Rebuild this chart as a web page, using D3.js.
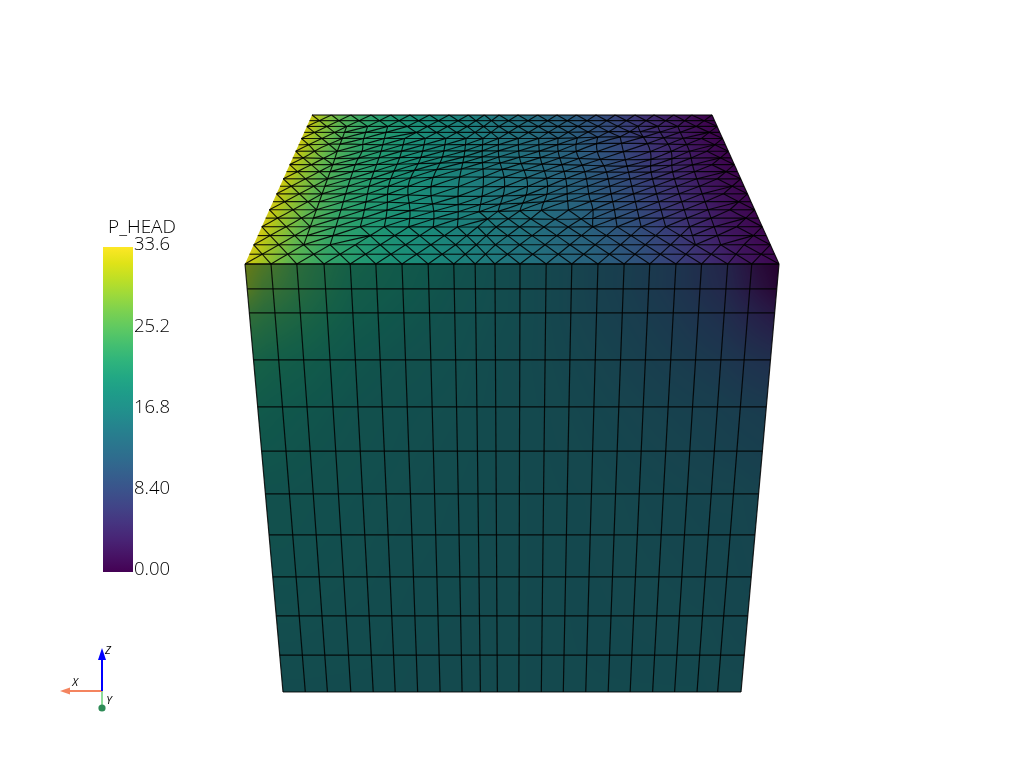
<!DOCTYPE html>
<html><head><meta charset="utf-8">
<script src="https://cdn.jsdelivr.net/npm/d3@7"></script>
<style>html,body{margin:0;background:#fff}#c{position:relative;width:1024px;height:768px}canvas,svg{position:absolute;left:0;top:0;display:block}</style>
</head><body><div id="c"></div>
<script>
// --- colour bar
const barTitle = "P_HEAD";
const barTicks = [0, 8.4, 16.8, 25.2, 33.6];
const barLabels = ["0.00", "8.40", "16.8", "25.2", "33.6"];
// --- front face mesh: column and row positions as fractions of the face
const meshU = [0,.0487,.097,.148,.197,.245,.294,.343,.391,.431,.468,.515,.564,.612,.661,.71,.758,.807,.855,.904,.949,1];
const meshT = [0,.058,.114,.224,.334,.437,.537,.633,.731,.822,.914,1];
// --- P_HEAD field, normalised 0..1, front face
const frontU = [0,.03,.1,.2,.3,.4,.5,.6,.7,.8,.9,.96,1];
const frontT = [0,.06,.12,.22,.35,.55,1];
const frontV0 = [.90,.84,.72,.62,.57,.52,.47,.42,.37,.31,.2,.06,0];
const frontV1 = [.85,.78,.70,.60,.56,.51,.47,.42,.37,.31,.22,.1,.03];
const frontV2 = [.74,.71,.66,.58,.54,.50,.47,.42,.38,.33,.26,.18,.13];
const frontV3 = [.64,.62,.59,.54,.51,.49,.46,.43,.40,.36,.32,.28,.26];
const frontV4 = [.57,.56,.54,.51,.49,.48,.46,.44,.42,.40,.38,.36,.35];
const frontV5 = [.51,.51,.50,.49,.48,.47,.46,.45,.44,.43,.42,.42,.41];
const frontV6 = [.47,.47,.47,.47,.46,.46,.46,.45,.45,.45,.45,.44,.44];
// --- P_HEAD field, normalised 0..1, top face (front edge, back edge)
const topU = [0,.03,.08,.15,.25,.35,.45,.55,.65,.75,.85,.93,1];
const topV0 = [.98,.90,.78,.68,.60,.54,.48,.42,.36,.28,.17,.07,.02];
const topV1 = [.96,.87,.76,.66,.58,.52,.46,.40,.33,.24,.13,.05,0];
// --- top face mesh: rows, diamond bands per column, irregular patches (u, v, strength, radius)
const topRows = 20;
const bandFront = [20,20,2,2,3,3,4,4,4,5,5,5,5,5,3,3,3,3,2,1,20,20];
const bandBack  = [0,0,18,18,18,17,17,17,16,16,16,16,16,16,17,17,17,18,18,18,0,0];
const patchU = [.41,.76,.10,.60];
const patchV = [.46,.71,.70,.30];
const patchA = [.34,.34,.3,.25];
const patchR = [.13,.10,.05,.06];
// --- orientation marker labels
const axisNames = ["X","Z","Y"];

// --- layout
const frontQuad = {x0l:245,x0r:779,y0:264,x1l:283,x1r:741,y1:692};
const backTop = {xl:312,xr:712,y:115};
const TEXT = '"Open Sans","Liberation Sans",Arial,sans-serif';

const root = d3.select("#c");
const canvas = root.append("canvas").attr("width",1024).attr("height",768);
const svg = root.append("svg").attr("width",1024).attr("height",768);

// scales
const viridis = d3.scaleSequential(d3.interpolateViridis).domain([0,1]);
const yFront = d3.scaleLinear([0,1],[frontQuad.y0,frontQuad.y1]);
const xlFront = d3.scaleLinear([0,1],[frontQuad.x0l,frontQuad.x1l]);
const xrFront = d3.scaleLinear([0,1],[frontQuad.x0r,frontQuad.x1r]);
const frontPt = (u,t)=>[xlFront(t)+u*(xrFront(t)-xlFront(t)), yFront(t)];

// top face projection: reciprocal width is linear in depth
const wF = frontQuad.x0r-frontQuad.x0l, wB = backTop.xr-backTop.xl;
const invW = d3.scaleLinear([0,1],[1/wF,1/wB]);
const yOfW = d3.scaleLinear([wB,wF],[backTop.y,frontQuad.y0]);
const xlOfW = d3.scaleLinear([wB,wF],[backTop.xl,frontQuad.x0l]);
const topPt = (u,v)=>{const w=1/invW(v);return [xlOfW(w)+u*w,yOfW(w)];};

function field(xs,ys,rows){
  const rs = rows.map(r=>d3.scaleLinear(xs,r));
  return (x,y)=>d3.scaleLinear(ys,rs.map(s=>s(x)))(y);
}
const frontField = field(frontU,frontT,[frontV0,frontV1,frontV2,frontV3,frontV4,frontV5,frontV6]);
const topField = field(topU,[0,1],[topV0,topV1]);
const lut = d3.range(512).map(i=>d3.rgb(viridis(i/511)));

// paint a face pixel by pixel through the inverse of its projection, clipped to the quad
function paint(poly,inv,fn,k){
  const [x0,x1]=d3.extent(poly,p=>p[0]),[y0,y1]=d3.extent(poly,p=>p[1]);
  const W=x1-x0+4,H=y1-y0+4;
  const off=document.createElement("canvas");off.width=W;off.height=H;
  const c=off.getContext("2d"),img=c.createImageData(W,H);
  for(let y=0;y<H;y++)for(let x=0;x<W;x++){
    const [u,v]=inv(x0-2+x+.5,y0-2+y+.5);
    const val=fn(Math.min(1,Math.max(0,u)),Math.min(1,Math.max(0,v)));
    const col=lut[Math.round(Math.min(1,Math.max(0,val))*511)];
    const o=(y*W+x)*4;
    img.data[o]=col.r*k;img.data[o+1]=col.g*k;img.data[o+2]=col.b*k;img.data[o+3]=255;
  }
  c.putImageData(img,0,0);
  const ctx=canvas.node().getContext("2d");
  ctx.save();ctx.beginPath();d3.line().context(ctx)(poly);ctx.closePath();ctx.clip();
  ctx.drawImage(off,x0-2,y0-2);ctx.restore();
}
paint([[backTop.xl,backTop.y],[backTop.xr,backTop.y],[frontQuad.x0r,frontQuad.y0],[frontQuad.x0l,frontQuad.y0]],
  (x,y)=>{const w=yOfW.invert(y);return [(x-xlOfW(w))/w,invW.invert(1/w)];},topField,.88);
paint([[frontQuad.x0l,frontQuad.y0],[frontQuad.x0r,frontQuad.y0],[frontQuad.x1r,frontQuad.y1],[frontQuad.x1l,frontQuad.y1]],
  (x,y)=>{const t=yFront.invert(y);return [(x-xlFront(t))/(xrFront(t)-xlFront(t)),t];},frontField,.55);

// top mesh
function warp(u,v){
  let du=0,dv=0;
  patchU.forEach((cu,i)=>{
    const ru=u-cu,rv=v-patchV[i],r2=(ru*ru+rv*rv)/(patchR[i]*patchR[i]);
    const g=patchA[i]*Math.exp(-r2);du+=ru*g;dv+=rv*g;
  });
  return [Math.min(1,Math.max(0,u+du)),Math.min(1,Math.max(0,v+dv))];
}
const nCols = meshU.length-1;
const colOf = i=>Math.min(nCols,i);
const shifted = (i,j) => j%2===1 && (j<=bandFront[colOf(i)] || j>=bandBack[colOf(i)]);
const node = (i,j)=>{
  const v=j/topRows;
  if(i>nCols) return [1,v];
  if(!shifted(i,j)) return [meshU[i],v];
  return [i>=nCols ? 1 : (meshU[i]+meshU[i+1])/2, v];
};
const topEdges=[];
for(let j=0;j<=topRows;j++){
  for(let i=0;i<nCols;i++) topEdges.push([node(i,j),node(i+1,j)]);
  if(shifted(0,j)) topEdges.push([[0,j/topRows],node(0,j)]);
  if(j===topRows) break;
  for(let i=0;i<=nCols;i++){
    topEdges.push([node(i,j),node(i,j+1)]);
    if(i===nCols) continue;
    topEdges.push(shifted(i,j+1) ? [node(i+1,j),node(i,j+1)] : [node(i,j),node(i+1,j+1)]);
  }
}
const line=d3.line();
const gTop=svg.append("g").attr("fill","none").attr("stroke","#000").attr("stroke-width",1.15).attr("stroke-opacity",.88);
gTop.selectAll("path").data(topEdges).join("path").attr("d",e=>{
  const steps=[0,.5,1].map(s=>{
    const p=warp(e[0][0]+(e[1][0]-e[0][0])*s,e[0][1]+(e[1][1]-e[0][1])*s);return topPt(p[0],p[1]);});
  return line(steps);
});

// front mesh
const gFront=svg.append("g").attr("fill","none").attr("stroke","#000").attr("stroke-width",1.2).attr("stroke-opacity",.85);
gFront.selectAll(".v").data(meshU).join("path").attr("class","v").attr("d",u=>line([frontPt(u,0),frontPt(u,1)]));
gFront.selectAll(".h").data(meshT).join("path").attr("class","h").attr("d",t=>line([frontPt(0,t),frontPt(1,t)]));

// colour bar
const defs=svg.append("defs");
const grad=defs.append("linearGradient").attr("id","vir").attr("x1",0).attr("x2",0).attr("y1",1).attr("y2",0);
d3.range(0,1.001,.05).forEach(t=>grad.append("stop").attr("offset",t).attr("stop-color",viridis(t)));
svg.append("rect").attr("x",103).attr("y",247).attr("width",30).attr("height",325).attr("fill","url(#vir)");
const yBar=d3.scaleLinear([0,33.6],[569,244]);
const ax=d3.axisRight(yBar).tickValues(barTicks).tickSize(0).tickPadding(1).tickFormat((d,i)=>barLabels[i]);
const gAx=svg.append("g").attr("transform","translate(133,0)").call(ax);
gAx.select(".domain").remove();
gAx.selectAll("text").attr("font-size",18.5).attr("font-weight",300).attr("fill","#000").attr("font-family",TEXT);
svg.append("text").attr("x",142).attr("y",233).attr("text-anchor","middle").attr("font-size",19).attr("font-weight",300).attr("fill","#000").attr("font-family",TEXT).text(barTitle);

// orientation marker
const om=svg.append("g");
om.append("line").attr("x1",102).attr("y1",691).attr("x2",102).attr("y2",706).attr("stroke","#8fdc9a").attr("stroke-width",2);
om.append("circle").attr("cx",102).attr("cy",708).attr("r",3.6).attr("fill","#2e8b57");
om.append("line").attr("x1",102).attr("y1",691).attr("x2",68).attr("y2",691).attr("stroke","#f4845f").attr("stroke-width",2);
om.append("path").attr("d",d3.line()([[60,691],[70,687.5],[70,694.5]])).attr("fill","#f4845f");
om.append("line").attr("x1",102).attr("y1",691).attr("x2",102).attr("y2",658).attr("stroke","#0000ff").attr("stroke-width",2);
om.append("path").attr("d",d3.line()([[102,648],[98,660],[106,660]])).attr("fill","#0000ff");
const lp=[[75,686],[108,654],[109,704]];
om.selectAll(".al").data(axisNames).join("text").attr("class","al").attr("x",(d,i)=>lp[i][0]).attr("y",(d,i)=>lp[i][1])
  .attr("text-anchor","middle").attr("font-size",11).attr("font-style","italic").attr("font-family",TEXT).attr("fill","#000").text(d=>d);
</script></body></html>
